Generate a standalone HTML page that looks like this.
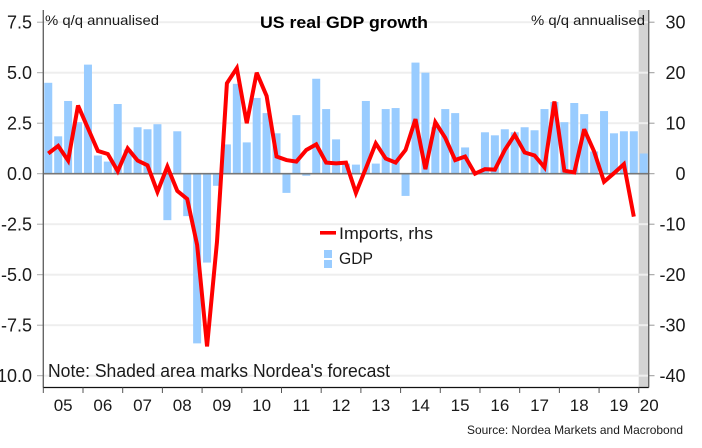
<!DOCTYPE html>
<html>
<head>
<meta charset="utf-8">
<style>
html,body{margin:0;padding:0;background:#fff;}
svg{display:block;}
text{font-family:"Liberation Sans",Arial,sans-serif;fill:#1a1a1a;}
</style>
</head>
<body>
<svg id="chart" width="702" height="448" viewBox="0 0 702 448" xmlns="http://www.w3.org/2000/svg">
  <rect x="638.7" y="10" width="10" height="377.5" fill="#d3d3d3"/>
  <g id="grid"></g>
  <g id="bars"></g>
  <g id="axes"></g>
  <g id="line"></g>
  <text x="260" y="28" font-size="17" font-weight="bold" fill="#000" textLength="168" lengthAdjust="spacingAndGlyphs" style="fill:#000">US real GDP growth</text>
  <text x="45" y="25" font-size="14" textLength="114" lengthAdjust="spacingAndGlyphs">% q/q annualised</text>
  <text x="531" y="25" font-size="14" textLength="114" lengthAdjust="spacingAndGlyphs">% q/q annualised</text>
  <text x="48" y="377" font-size="18" textLength="342" lengthAdjust="spacingAndGlyphs">Note: Shaded area marks Nordea's forecast</text>
  <text x="467" y="434" font-size="12" textLength="216" lengthAdjust="spacingAndGlyphs">Source: Nordea Markets and Macrobond</text>
  <g>
    <rect x="320" y="231" width="16" height="3.6" fill="#ff0000"/>
    <text x="339" y="239" font-size="17" textLength="94" lengthAdjust="spacingAndGlyphs">Imports, rhs</text>
    <rect x="324" y="250" width="8" height="8" fill="#99ccff"/>
    <rect x="324" y="260" width="8" height="8" fill="#99ccff"/>
    <text x="339" y="264" font-size="17" textLength="34" lengthAdjust="spacingAndGlyphs">GDP</text>
  </g>
</svg>
<script>
const yearLabels = ["05","06","07","08","09","10","11","12","13","14","15","16","17","18","19","20"];
const leftTicks = [7.5, 5, 2.5, 0, -2.5, -5, -7.5, -10];
const rightTicks = [30, 20, 10, 0, -10, -20, -30, -40];
const gdp = [
  4.5, 1.85, 3.6, 2.55,
  5.4, 0.9, 0.6, 3.45,
  1.2, 2.3, 2.2, 2.45,
  -2.3, 2.1, -2.1, -8.4,
  -4.4, -0.6, 1.45, 4.45,
  1.55, 3.75, 3.0, 2.0,
  -0.95, 2.9, -0.1, 4.7,
  3.2, 1.7, 0.5, 0.45,
  3.6, 0.5, 3.2, 3.25,
  -1.1, 5.5, 5.0, 2.3,
  3.2, 3.0, 1.3, 0.1,
  2.05, 1.9, 2.2, 2.05,
  2.3, 2.15, 3.2, 3.55,
  2.55, 3.5, 2.95, 1.1,
  3.1, 2.0, 2.1, 2.1,
  1.0
];
const imports = [
  4.0, 5.5, 2.6, 13.5,
  9.0, 4.5, 3.9, 0.5,
  5.0, 2.6, 1.65, -3.6,
  1.4, -3.4, -5.0, -14.1,
  -34.2, -13.5, 17.9, 20.9,
  10.0, 20.0, 15.4, 3.4,
  2.7, 2.4, 4.7, 5.8,
  2.2, 2.05, 2.2, -3.8,
  1.05, 6.0, 3.0, 2.2,
  4.7, 10.8, 0.9, 10.2,
  7.1, 2.7, 3.4, 0.0,
  0.9, 0.8, 4.7, 7.7,
  4.2, 3.6, 1.25, 14.3,
  0.6, 0.25, 8.8, 4.4,
  -1.6, 0.1, 1.9, -8.5
];

const NS = "http://www.w3.org/2000/svg";
const plotLeft = 43.3, plotRight = 648.7, plotBottom = 387.5;
const quarterWidth = (plotRight - plotLeft) / gdp.length;
const xBand = i => plotLeft + quarterWidth * i;
const xMid = i => xBand(i) + quarterWidth / 2;
const yLeft = v => 173.7 - 20.2 * v;
const yRight = v => 173.7 - 5.05 * v;
const make = (tag, parent) => {
  const el = document.createElementNS(NS, tag);
  document.getElementById(parent).appendChild(el);
  return el;
};

leftTicks.forEach(v => {
  const y = yLeft(v);
  if (v !== 0) {
    const g = make("rect", "grid");
    
    
    g.setAttribute("x", plotLeft);
    g.setAttribute("y", y - 1);
    g.setAttribute("width", plotRight - plotLeft);
    g.setAttribute("height", 2);
    g.setAttribute("fill", "#eeeeee");
  }
  const t = make("line", "axes");
  
  
  t.setAttribute("x1", 37);
  t.setAttribute("x2", plotLeft);
  t.setAttribute("y1", y);
  t.setAttribute("y2", y);
  t.setAttribute("stroke", "#aaaaaa");
  t.setAttribute("stroke-width", 1);
  const l = make("text", "axes");
  
  
  l.setAttribute("x", 32);
  l.setAttribute("y", y + 6.5);
  l.setAttribute("font-size", 18);
  l.setAttribute("text-anchor", "end");
  l.textContent = v === 0 ? "0.0" : v.toFixed(1);
});

rightTicks.forEach(v => {
  const y = yRight(v);
  const t = make("line", "axes");
  
  
  t.setAttribute("x1", plotRight);
  t.setAttribute("x2", 654.5);
  t.setAttribute("y1", y);
  t.setAttribute("y2", y);
  t.setAttribute("stroke", "#999999");
  t.setAttribute("stroke-width", 1);
  const l = make("text", "axes");
  
  
  l.setAttribute("x", 685.5);
  l.setAttribute("y", y + 6.5);
  l.setAttribute("font-size", 18);
  l.setAttribute("text-anchor", "end");
  l.textContent = String(v);
});

gdp.forEach((v, i) => {
  const b = make("rect", "bars");
  
  
  const y0 = yLeft(0), y1 = yLeft(v);
  b.setAttribute("x", xMid(i) - 4);
  b.setAttribute("y", Math.min(y0, y1));
  b.setAttribute("width", 8);
  b.setAttribute("height", Math.abs(y1 - y0));
  b.setAttribute("fill", "#99ccff");
});

const zero = make("line", "axes");


zero.setAttribute("x1", plotLeft);
zero.setAttribute("x2", plotRight);
zero.setAttribute("y1", yLeft(0));
zero.setAttribute("y2", yLeft(0));
zero.setAttribute("stroke", "#777777");
zero.setAttribute("stroke-width", 1.6);

const leftAxis = make("line", "axes");


leftAxis.setAttribute("x1", plotLeft);
leftAxis.setAttribute("x2", plotLeft);
leftAxis.setAttribute("y1", 10);
leftAxis.setAttribute("y2", plotBottom);
leftAxis.setAttribute("stroke", "#666666");
leftAxis.setAttribute("stroke-width", 1.4);

const rightAxis = make("line", "axes");


rightAxis.setAttribute("x1", plotRight);
rightAxis.setAttribute("x2", plotRight);
rightAxis.setAttribute("y1", 10);
rightAxis.setAttribute("y2", plotBottom);
rightAxis.setAttribute("stroke", "#666666");
rightAxis.setAttribute("stroke-width", 1.4);

const bottomAxis = make("line", "axes");


bottomAxis.setAttribute("x1", plotLeft);
bottomAxis.setAttribute("x2", plotRight);
bottomAxis.setAttribute("y1", plotBottom);
bottomAxis.setAttribute("y2", plotBottom);
bottomAxis.setAttribute("stroke", "#111111");
bottomAxis.setAttribute("stroke-width", 1.2);

yearLabels.forEach((label, k) => {
  const tickX = xBand(k * 4);
  const t = make("line", "axes");
  
  
  t.setAttribute("x1", tickX);
  t.setAttribute("x2", tickX);
  t.setAttribute("y1", plotBottom);
  t.setAttribute("y2", 393);
  t.setAttribute("stroke", "#555555");
  t.setAttribute("stroke-width", 1);
  const l = make("text", "axes");
  
  
  const last = k === yearLabels.length - 1;
  l.setAttribute("x", last ? tickX + 1 : tickX + quarterWidth * 2);
  l.setAttribute("y", 411);
  l.setAttribute("font-size", 17);
  l.setAttribute("text-anchor", last ? "start" : "middle");
  l.textContent = label;
});

const path = make("polyline", "line");


path.setAttribute("points", imports.map((v, i) => xMid(i) + "," + yRight(v)).join(" "));
path.setAttribute("fill", "none");
path.setAttribute("stroke", "#ff0000");
path.setAttribute("stroke-width", 4);
path.setAttribute("stroke-linejoin", "miter");
path.setAttribute("stroke-miterlimit", 3);
</script>
</body>
</html>
